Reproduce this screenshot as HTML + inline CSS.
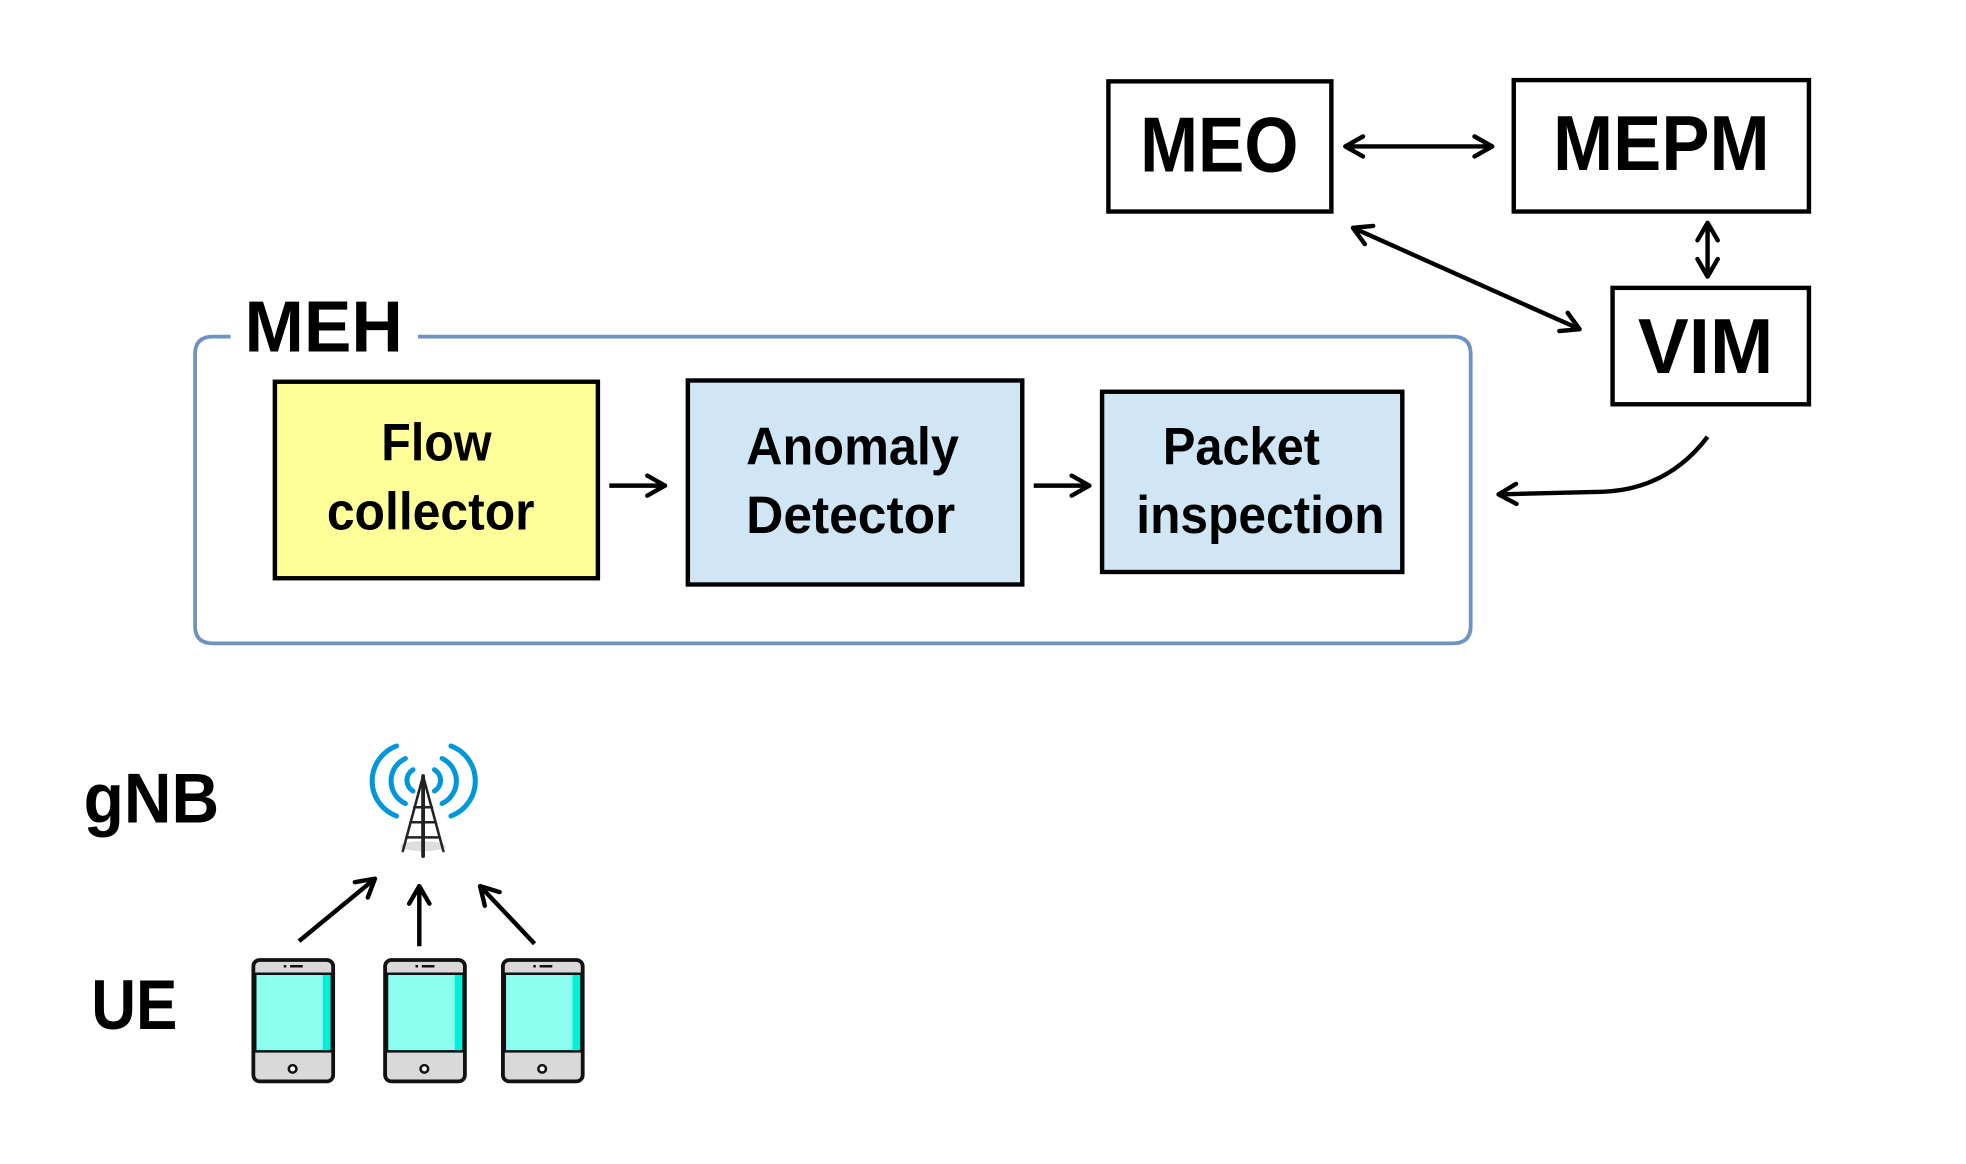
<!DOCTYPE html>
<html><head><meta charset="utf-8"><style>html,body{margin:0;padding:0;background:#fff;}svg{display:block}</style></head>
<body>
<svg width="1966" height="1164" viewBox="0 0 1552 930" preserveAspectRatio="none" xmlns="http://www.w3.org/2000/svg">
<defs>
<marker id="ah" viewBox="0 0 20 20" refX="18" refY="10" markerWidth="20" markerHeight="20" markerUnits="userSpaceOnUse" orient="auto-start-reverse">
<path d="M4,2 L18,10 L4,18" fill="none" stroke="#000" stroke-width="3.5" stroke-linecap="round" stroke-linejoin="round"/>
</marker>
</defs>
<rect width="1552" height="930" fill="#fff"/>
<g font-family="Liberation Sans, sans-serif" font-weight="bold" fill="#000">
<rect x="875" y="65" width="176" height="104" fill="#fff" stroke="#000" stroke-width="3.5"/>
<text x="900" y="137" font-size="62" textLength="125" lengthAdjust="spacingAndGlyphs">MEO</text>
<rect x="1195" y="64" width="233" height="105" fill="#fff" stroke="#000" stroke-width="3.5"/>
<text x="1226" y="136" font-size="62" textLength="171" lengthAdjust="spacingAndGlyphs">MEPM</text>
<rect x="1273" y="230" width="155" height="93" fill="#fff" stroke="#000" stroke-width="3.5"/>
<text x="1293" y="298" font-size="62" textLength="107" lengthAdjust="spacingAndGlyphs">VIM</text>
<g stroke="#000" stroke-width="3.5" fill="none">
<line x1="1062" y1="117" x2="1178" y2="117" marker-start="url(#ah)" marker-end="url(#ah)"/>
<line x1="1348" y1="178" x2="1348" y2="221" marker-start="url(#ah)" marker-end="url(#ah)"/>
<line x1="1068" y1="182" x2="1247" y2="263" marker-start="url(#ah)" marker-end="url(#ah)"/>
<path d="M1348,349 Q1315,393 1260,393 L1183,395" marker-end="url(#ah)"/>
<line x1="481" y1="388" x2="525" y2="388" marker-end="url(#ah)"/>
<line x1="816" y1="388" x2="860" y2="388" marker-end="url(#ah)"/>
<line x1="236" y1="752" x2="296" y2="702" marker-end="url(#ah)"/>
<line x1="331" y1="756" x2="331" y2="708" marker-end="url(#ah)"/>
<line x1="422" y1="754" x2="379" y2="708" marker-end="url(#ah)"/>
</g>
<path d="M182,269 L168,269 Q154,269 154,283 L154,500 Q154,514 168,514 L1147,514 Q1161,514 1161,500 L1161,283 Q1161,269 1147,269 L330,269" fill="none" stroke="#7092be" stroke-width="3"/>
<text x="193" y="281" font-size="58" textLength="125" lengthAdjust="spacingAndGlyphs">MEH</text>
<rect x="217" y="305" width="255" height="157" fill="#ffff99" stroke="#000" stroke-width="3.5"/>
<text x="301" y="368" font-size="42" textLength="87" lengthAdjust="spacingAndGlyphs">Flow</text>
<text x="258" y="423" font-size="42" textLength="164" lengthAdjust="spacingAndGlyphs">collector</text>
<rect x="543" y="304" width="264" height="163" fill="#d0e6f4" stroke="#000" stroke-width="3.5"/>
<text x="589" y="371" font-size="42" textLength="168" lengthAdjust="spacingAndGlyphs">Anomaly</text>
<text x="589" y="426" font-size="42" textLength="165" lengthAdjust="spacingAndGlyphs">Detector</text>
<rect x="870" y="313" width="237" height="144" fill="#d0e6f4" stroke="#000" stroke-width="3.5"/>
<text x="918" y="371" font-size="42" textLength="124" lengthAdjust="spacingAndGlyphs">Packet</text>
<text x="897" y="426" font-size="42" textLength="196" lengthAdjust="spacingAndGlyphs">inspection</text>
<text x="66" y="657" font-size="56" textLength="107" lengthAdjust="spacingAndGlyphs">gNB</text>
<text x="72" y="822" font-size="56" textLength="68" lengthAdjust="spacingAndGlyphs">UE</text>
</g>
<g fill="none" stroke-linecap="round">
<g stroke="#0096dc" stroke-width="4">
<path d="M313,596 A30,30 0 0 0 313,652"/>
<path d="M356,596 A30,30 0 0 1 356,652"/>
<path d="M320,606 A20,20 0 0 0 320,642"/>
<path d="M349,606 A20,20 0 0 1 349,642"/>
<path d="M326,615 A10,10 0 0 0 326,632"/>
<path d="M343,615 A10,10 0 0 1 343,632"/>
</g>
<ellipse cx="334" cy="676" rx="18" ry="4" fill="#ddd" stroke="none"/>
<g stroke="#222" stroke-width="2">
<line x1="334" y1="620" x2="334" y2="684" stroke-width="3"/>
<line x1="334" y1="620" x2="318" y2="680"/>
<line x1="334" y1="620" x2="350" y2="680"/>
<line x1="327" y1="645" x2="341" y2="645"/>
<line x1="324" y1="657" x2="344" y2="657"/>
<line x1="321" y1="669" x2="347" y2="669"/>
</g>
</g>
<g id="ph">
<rect x="200" y="767" width="63" height="97" rx="5" fill="#d9d9d9" stroke="#111" stroke-width="3"/>
<rect x="201.5" y="778" width="60" height="62" fill="#8cfff0" stroke="#111" stroke-width="2"/>
<rect x="255" y="779" width="6" height="60" fill="#00f0d8"/>
<line x1="224" y1="772" x2="226" y2="772" stroke="#111" stroke-width="2"/>
<line x1="229" y1="772" x2="239" y2="772" stroke="#111" stroke-width="2"/>
<circle cx="231" cy="854" r="3" fill="#fff" stroke="#111" stroke-width="2"/>
</g>
<use href="#ph" x="104"/>
<use href="#ph" x="197"/>
</svg>
</body></html>
